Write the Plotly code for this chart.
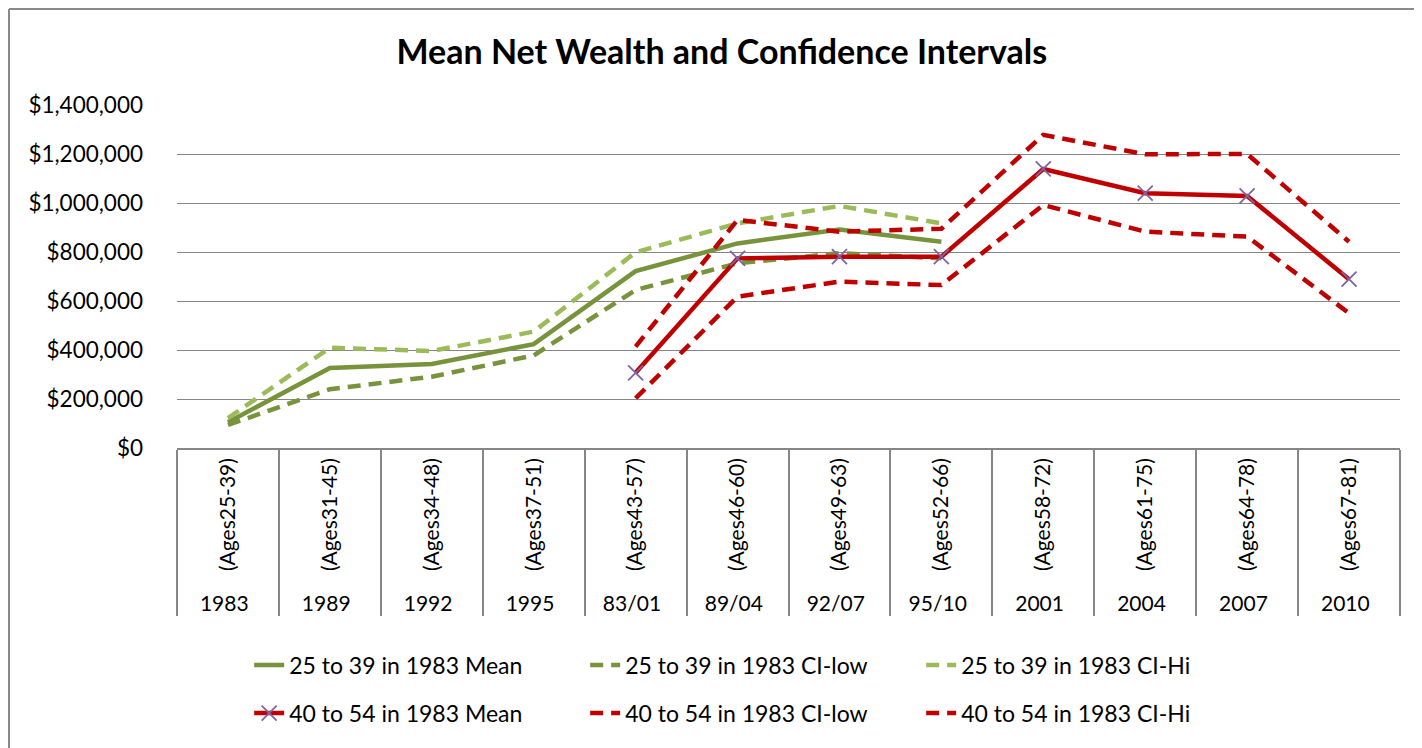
import plotly.graph_objects as go

years = ["1983", "1989", "1992", "1995", "83/01", "89/04", "92/07", "95/10",
         "2001", "2004", "2007", "2010"]
ages = ["(Ages25-39)", "(Ages31-45)", "(Ages34-48)", "(Ages37-51)", "(Ages43-57)",
        "(Ages46-60)", "(Ages49-63)", "(Ages52-66)", "(Ages58-72)", "(Ages61-75)",
        "(Ages64-78)", "(Ages67-81)"]

g_mean = [105000, 327000, 343000, 424000, 722000, 835000, 892000, 842000, None, None, None, None]
g_low = [94000, 240000, 291000, 378000, 645000, 754000, 795000, 774000, None, None, None, None]
g_hi = [122000, 409000, 396000, 475000, 799000, 917000, 988000, 917000, None, None, None, None]

r_mean = [None, None, None, None, 307000, 774000, 781000, 781000, 1139000, 1040000, 1029000, 689000]
r_low = [None, None, None, None, 203000, 618000, 679000, 665000, 992000, 883000, 863000, 550000]
r_hi = [None, None, None, None, 414000, 931000, 883000, 895000, 1278000, 1199000, 1200000, 842000]

FONT = "Lato, 'Open Sans', sans-serif"
x = [years, ages]
DASH = "13px,8px"

fig = go.Figure()
fig.add_trace(go.Scatter(x=x, y=g_mean, name="25 to 39 in 1983 Mean", mode="lines",
                         line=dict(color="#77933C", width=4.5), legend="legend"))
fig.add_trace(go.Scatter(x=x, y=g_low, name="25 to 39 in 1983 CI-low", mode="lines",
                         line=dict(color="#77933C", width=4.5, dash=DASH), legend="legend"))
fig.add_trace(go.Scatter(x=x, y=g_hi, name="25 to 39 in 1983 CI-Hi", mode="lines",
                         line=dict(color="#9BBB59", width=4.5, dash=DASH), legend="legend"))
fig.add_trace(go.Scatter(x=x, y=r_mean, name="40 to 54 in 1983 Mean", mode="lines+markers",
                         line=dict(color="#C00000", width=4.5),
                         marker=dict(symbol="x-thin-open", size=15,
                                     line=dict(color="#8064A2", width=1.8), color="#8064A2"),
                         legend="legend2"))
fig.add_trace(go.Scatter(x=x, y=r_low, name="40 to 54 in 1983 CI-low", mode="lines",
                         line=dict(color="#C00000", width=4.5, dash=DASH), legend="legend2"))
fig.add_trace(go.Scatter(x=x, y=r_hi, name="40 to 54 in 1983 CI-Hi", mode="lines",
                         line=dict(color="#C00000", width=4.5, dash=DASH), legend="legend2"))

legend_common = dict(orientation="h", xref="paper", yref="paper", xanchor="left",
                     yanchor="middle", font=dict(family=FONT, size=23, color="#000"),
                     entrywidth=291, bgcolor="rgba(0,0,0,0)", itemwidth=30)

# the page body adds an 8px offset; margins below compensate for it
fig.update_layout(
    width=1422, height=748,
    paper_bgcolor="white", plot_bgcolor="white",
    margin=dict(l=169, r=30, t=97, b=308, autoexpand=False),
    title=dict(text="<b>Mean Net Wealth and Confidence Intervals</b>",
               x=0.502, xanchor="center", y=0.941, yanchor="middle",
               font=dict(family=FONT, size=34, color="#000")),
    font=dict(family=FONT, size=21, color="#000"),
    legend=dict(x=0.059, y=-0.633, **legend_common),
    legend2=dict(x=0.059, y=-0.773, **legend_common),
    xaxis=dict(type="multicategory", range=[-0.5, 11.5], tickangle=-90, showline=True,
               linecolor="#868686", linewidth=1.5, showdividers=True,
               dividercolor="#868686", dividerwidth=1.5,
               showgrid=False, tickfont=dict(family=FONT, size=21, color="#000"),
               ticks="", mirror=False),
    yaxis=dict(range=[0, 1400000], dtick=200000, tickprefix="$", tickformat=",d",
               showgrid=True, gridcolor="#868686", gridwidth=1.3, zeroline=False,
               showline=False, ticklabelstandoff=33,
               tickfont=dict(family=FONT, size=22.5, color="#000")),
    showlegend=True,
)

# outer chart border (top and left edges visible)
bx = (9 - 177) / 1223
by = (448 - 9) / 343
fig.add_shape(type="line", xref="paper", yref="paper",
              x0=bx, x1=(1440 - 177) / 1223, y0=by, y1=by,
              line=dict(color="#898989", width=2))
fig.add_shape(type="line", xref="paper", yref="paper",
              x0=bx, x1=bx, y0=by, y1=(448 - 770) / 343,
              line=dict(color="#898989", width=2))

fig.write_html("out.html")
